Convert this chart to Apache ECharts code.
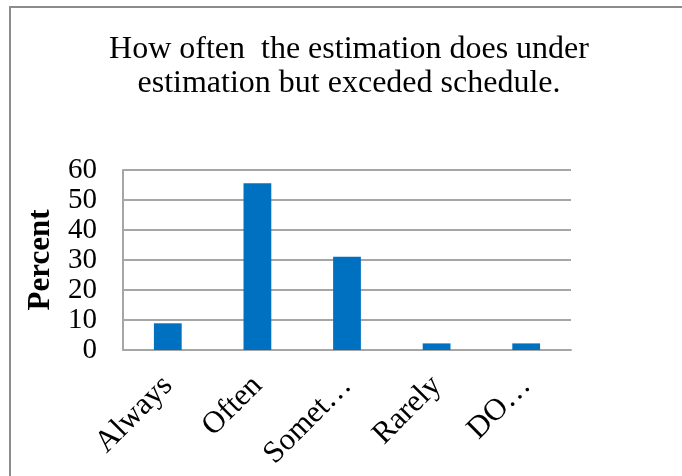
<!DOCTYPE html>
<html>
<head>
<meta charset="utf-8">
<script src="https://cdn.jsdelivr.net/npm/echarts@6/dist/echarts.min.js"></script>
<style>
  html, body { margin: 0; padding: 0; background: #fff; }
  #chart { width: 682px; height: 476px; }
</style>
</head>
<body>
<div id="chart"></div>
<script>
// Response categories and their share of answers (%)
const categories = ['Always', 'Often', 'Somet\u2026', 'Rarely', 'DO\u2026'];
const percentValues = [8.9, 55.6, 31.1, 2.2, 2.2];
const yTicks = { min: 0, max: 60, interval: 10 };

const serif = '"Liberation Serif", "Times New Roman", serif';
const chart = echarts.init(document.getElementById('chart'), null, { renderer: 'canvas' });

chart.setOption({
  animation: false,
  backgroundColor: '#ffffff',
  title: {
    text: 'How often  the estimation does under\nestimation but exceded schedule.',
    left: 344,
    top: 28,
    textAlign: 'center',
    textStyle: {
      fontFamily: serif,
      fontWeight: 'normal',
      fontSize: 32,
      lineHeight: 34,
      color: '#000'
    }
  },
  graphic: [{
    type: 'rect',
    shape: { x: 10, y: 7, width: 700, height: 500 },
    style: { fill: 'none', stroke: '#8c8c8c', lineWidth: 2 },
    silent: true,
    z: 100
  }],
  grid: { left: 123, right: 111, top: 170, bottom: 126, containLabel: false },
  xAxis: {
    type: 'category',
    data: categories,
    axisLine: { show: true, lineStyle: { color: '#a6a6a6', width: 2 } },
    axisTick: { show: false },
    axisLabel: {
      rotate: 45,
      margin: 31,
      interval: 0,
      fontFamily: serif,
      fontSize: 31,
      color: '#000'
    }
  },
  yAxis: {
    type: 'value',
    min: yTicks.min,
    max: yTicks.max,
    interval: yTicks.interval,
    name: 'Percent',
    nameLocation: 'middle',
    nameGap: 67,
    nameRotate: 90,
    nameTextStyle: {
      fontFamily: serif,
      fontWeight: 'bold',
      fontSize: 31,
      color: '#000'
    },
    axisLine: { show: true, lineStyle: { color: '#a6a6a6', width: 2 } },
    axisTick: { show: false },
    axisLabel: {
      margin: 26,
      showMinLabel: true,
      showMaxLabel: true,
      fontFamily: serif,
      fontSize: 29,
      color: '#000'
    },
    splitLine: { show: true, lineStyle: { color: '#a6a6a6', width: 2 } }
  },
  series: [{
    type: 'bar',
    data: percentValues,
    barWidth: '31%',
    itemStyle: { color: '#0070c0' }
  }]
});
</script>
</body>
</html>
